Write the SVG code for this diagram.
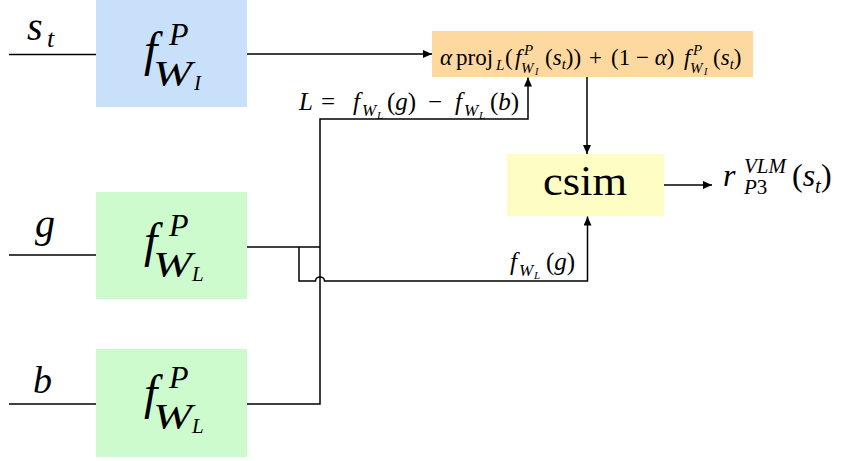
<svg xmlns="http://www.w3.org/2000/svg" width="849" height="461" viewBox="0 0 849 461" font-family="'Liberation Serif', 'DejaVu Serif', serif">
<style>
.i{font-style:italic}
.c{fill:none;stroke:#000;stroke-width:1.5}
</style>
<defs>
<marker id="ah" markerUnits="userSpaceOnUse" markerWidth="10" markerHeight="10" refX="9" refY="4" orient="auto">
<path d="M0,0 L9,4 L0,8 z" fill="#000"/>
</marker>
</defs>
<rect width="849" height="461" fill="#fff"/>
<g id="connectors">
<path class="c" d="M9 54.5 H96"/>
<path class="c" d="M9 255 H96"/>
<path class="c" d="M9 404 H96"/>
<path class="c" d="M247 54 H432" marker-end="url(#ah)"/>
<path class="c" d="M247 404 H320 V119 H528 V77.5" marker-end="url(#ah)"/>
<path class="c" d="M247 247 H320"/>
<path class="c" d="M299 247 V281 H315.5 a4.5 4 0 0 1 9 0 H587.5 V216.5" marker-end="url(#ah)"/>
<path class="c" d="M587 77 V154" marker-end="url(#ah)"/>
<path class="c" d="M664 185 H712" marker-end="url(#ah)"/>
</g>
<g id="label-st" class="i"><text x="27" y="40" font-size="40">s</text><text x="47" y="47" font-size="26">t</text></g>
<g id="label-g" class="i"><text x="35" y="237" font-size="40">g</text></g>
<g id="label-b" class="i"><text x="33" y="393" font-size="38">b</text></g>
<g id="node-fWI">
<rect x="96" y="0" width="151" height="107" fill="#c9e0fb"/>
<g class="i"><text x="144" y="66" font-size="48">f</text><text x="169" y="45" font-size="32">P</text><text x="153" y="86" font-size="35" textLength="39" lengthAdjust="spacingAndGlyphs">W</text><text x="194" y="90" font-size="21">I</text></g>
</g>
<g id="node-fWL-g">
<rect x="96" y="192" width="151" height="107" fill="#cdfbce"/>
<g class="i"><text x="144" y="257" font-size="48">f</text><text x="169" y="236" font-size="32">P</text><text x="153" y="277" font-size="35" textLength="39" lengthAdjust="spacingAndGlyphs">W</text><text x="192" y="281" font-size="21">L</text></g>
</g>
<g id="node-fWL-b">
<rect x="96" y="349" width="151" height="108" fill="#cdfbce"/>
<g class="i"><text x="144" y="409" font-size="48">f</text><text x="169" y="388" font-size="32">P</text><text x="153" y="429" font-size="35" textLength="39" lengthAdjust="spacingAndGlyphs">W</text><text x="192" y="433" font-size="21">L</text></g>
</g>
<g id="node-proj">
<rect x="432" y="31" width="321" height="46" fill="#fdd9a0"/>
<g font-size="23">
<text x="440" y="65" class="i">α</text>
<text x="456" y="65">proj</text>
<text x="496" y="70" font-size="15" class="i">L</text>
<text x="505" y="65">(</text>
<text x="515" y="65" class="i">f</text>
<text x="524" y="55" font-size="15" class="i">P</text>
<text x="521" y="73" font-size="15" class="i">W</text>
<text x="535" y="75" font-size="10" class="i">I</text>
<text x="545" y="65">(<tspan class="i">s</tspan><tspan font-size="15" dy="4" class="i">t</tspan><tspan dy="-4">))</tspan></text>
<text x="589" y="65">+</text>
<text x="611" y="65">(1 − <tspan class="i">α</tspan>)</text>
<text x="684" y="65" class="i">f</text>
<text x="693" y="55" font-size="15" class="i">P</text>
<text x="690" y="73" font-size="15" class="i">W</text>
<text x="704" y="75" font-size="10" class="i">I</text>
<text x="713" y="65">(<tspan class="i">s</tspan><tspan font-size="15" dy="4" class="i">t</tspan><tspan dy="-4">)</tspan></text>
</g>
</g>
<g id="label-L" font-size="25">
<text x="299" y="110" class="i">L</text>
<text x="321" y="110">=</text>
<text x="353" y="110" class="i">f</text>
<text x="362" y="116" font-size="17" class="i">W</text>
<text x="377" y="119" font-size="11" class="i">L</text>
<text x="387" y="110">(<tspan class="i">g</tspan>)</text>
<text x="428" y="110">−</text>
<text x="455" y="110" class="i">f</text>
<text x="464" y="116" font-size="17" class="i">W</text>
<text x="479" y="119" font-size="11" class="i">L</text>
<text x="490" y="110">(<tspan class="i">b</tspan>)</text>
</g>
<g id="node-csim">
<rect x="507" y="154" width="157" height="62" fill="#fefdc3"/>
<text x="585" y="195" font-size="42" text-anchor="middle" textLength="84" lengthAdjust="spacingAndGlyphs">csim</text>
</g>
<g id="label-fg" font-size="25">
<text x="510" y="270" class="i">f</text>
<text x="519" y="276" font-size="17" class="i">W</text>
<text x="534" y="279" font-size="11" class="i">L</text>
<text x="546" y="270">(<tspan class="i">g</tspan>)</text>
</g>
<g id="label-r" font-size="32">
<text x="723" y="186" class="i">r</text>
<text x="744" y="173" font-size="21" class="i">VLM</text>
<text x="744" y="194" font-size="21"><tspan class="i">P</tspan>3</text>
<text x="792" y="186">(<tspan class="i">s</tspan><tspan font-size="21" dy="7" class="i">t</tspan><tspan dy="-7">)</tspan></text>
</g>
</svg>
